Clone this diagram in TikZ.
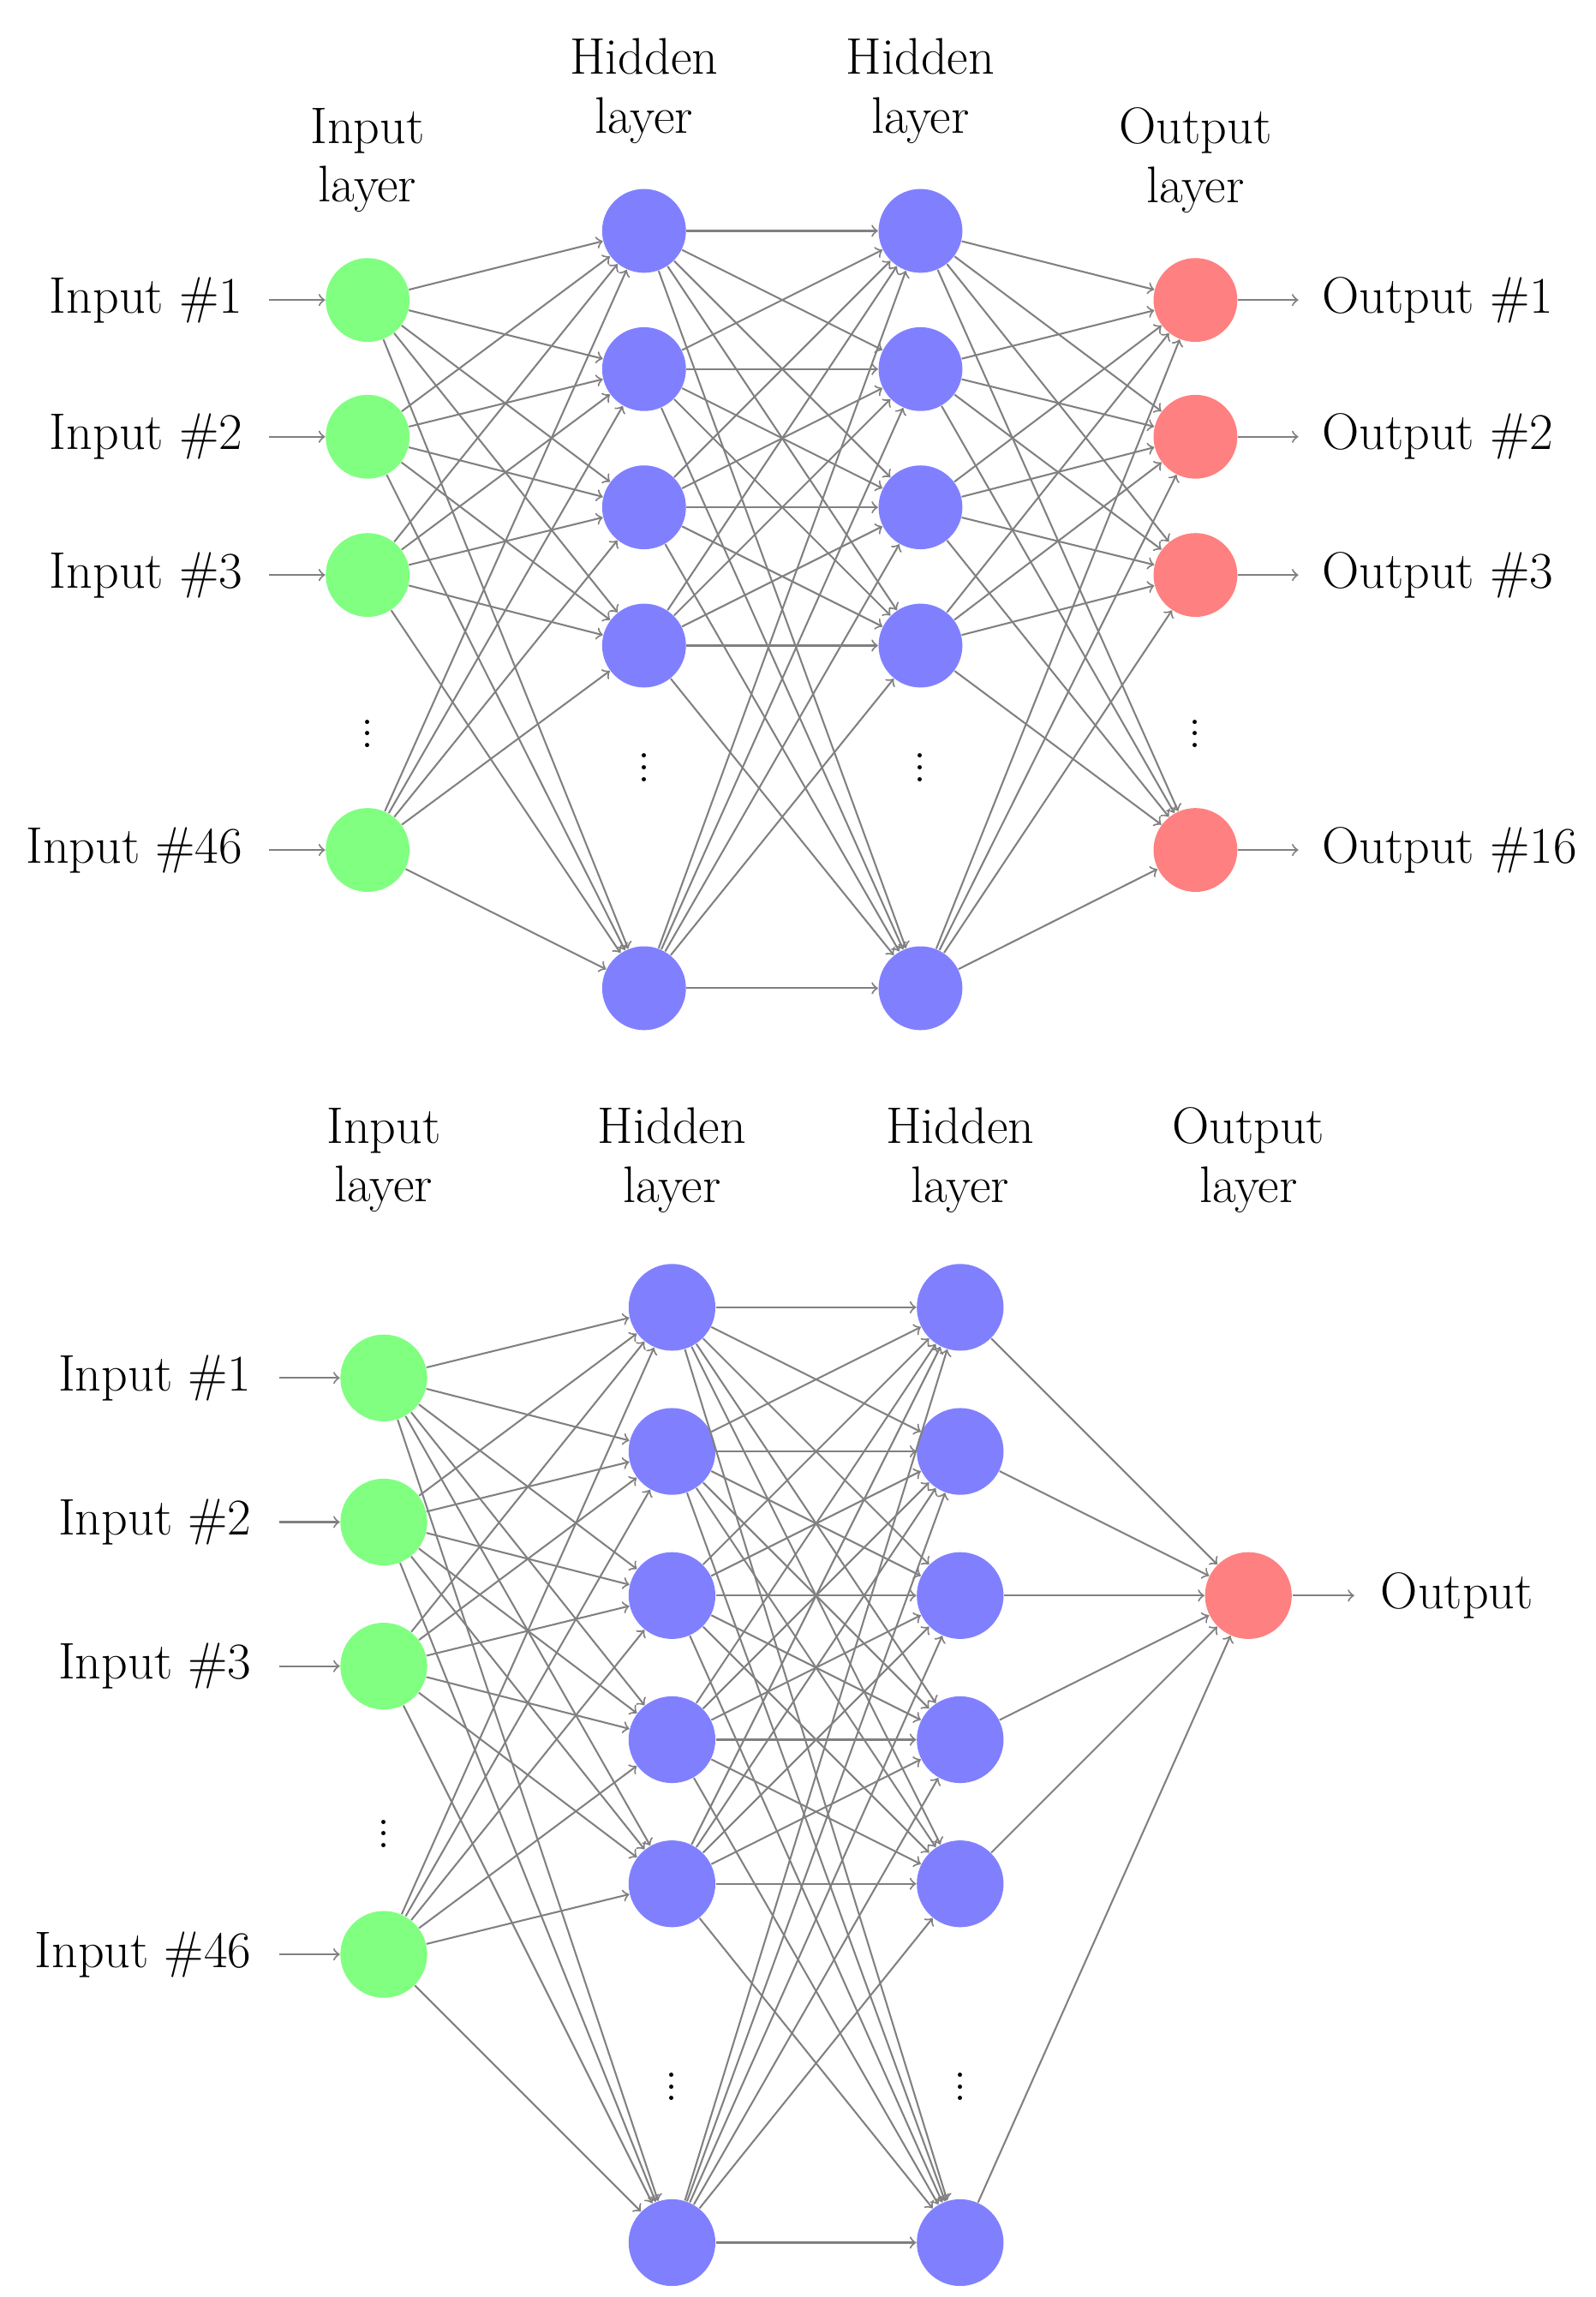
\documentclass[tikz,border=0pt]{standalone}
\begin{document}
\begin{tikzpicture}[x=0.5pt,y=-0.5pt,
  neu/.style={circle,minimum size=28.5pt,inner sep=0pt},
  inn/.style={neu,fill=green!50},
  hid/.style={neu,fill=blue!50},
  outn/.style={neu,fill=red!50},
  con/.style={->,gray,line width=0.6pt},
  lbl/.style={font=\fontsize{17.5}{21}\selectfont},
  ttl/.style={font=\fontsize{17.5}{20}\selectfont,align=center}]
\useasboundingbox (0,0) rectangle (1085,1562);
% ===== top network =====
\foreach \y/\n/\t in {204/1/1,297/2/2,391/3/3,578/4/46}{
  \node[inn] (a\n) at (250,\y) {};
  \node[lbl,anchor=east] (al\n) at (172,\y) {Input \#\t};
  \coordinate (as\n) at (183,\y);
  \draw[con] (as\n) -- (a\n);
}
\foreach \y/\n in {157/1,251/2,345/3,439/4,672/5}{
  \node[hid] (b\n) at (438,\y) {};
  \node[hid] (c\n) at (626,\y) {};
}
\foreach \y/\n/\t in {204/1/1,297/2/2,391/3/3,578/4/16}{
  \node[outn] (d\n) at (813,\y) {};
  \node[lbl,anchor=west] (dl\n) at (892,\y) {Output \#\t};
  \coordinate (de\n) at (883,\y);
  \draw[con] (d\n) -- (de\n);
}
\node[lbl] (ad) at (250,493) {$\vdots$};
\node[lbl] (bd) at (438,516) {$\vdots$};
\node[lbl] (cd) at (626,516) {$\vdots$};
\node[lbl] (dd) at (813,493) {$\vdots$};
\node[ttl] (at) at (250,109) {Input\\layer};
\node[ttl] (bt) at (438,62) {Hidden\\layer};
\node[ttl] (ct) at (626,62) {Hidden\\layer};
\node[ttl] (dt) at (813,109) {Output\\layer};
\foreach \i in {1,...,4}{\foreach \j in {1,...,5}{\draw[con] (a\i) -- (b\j);}}
\foreach \i in {1,...,5}{\foreach \j in {1,...,5}{\draw[con] (b\i) -- (c\j);}}
\foreach \i in {1,...,5}{\foreach \j in {1,...,4}{\draw[con] (c\i) -- (d\j);}}
% ===== bottom network =====
\tikzset{neu/.append style={minimum size=29.5pt}}
\foreach \y/\n/\t in {937/1/1,1035/2/2,1133/3/3,1329/4/46}{
  \node[inn] (p\n) at (261,\y) {};
  \node[lbl,anchor=east] (pl\n) at (178,\y) {Input \#\t};
  \coordinate (ps\n) at (190,\y);
  \draw[con] (ps\n) -- (p\n);
}
\foreach \y/\n in {889/1,987/2,1085/3,1183/4,1281/5,1525/6}{
  \node[hid] (q\n) at (457,\y) {};
  \node[hid] (r\n) at (653,\y) {};
}
\node[outn] (s1) at (849,1085) {};
\coordinate (se) at (921,1085);
\draw[con] (s1) -- (se);
\node[lbl,anchor=west] (sl) at (932,1085) {Output};
\node[lbl] (pd) at (261,1241) {$\vdots$};
\node[lbl] (qd) at (457,1413) {$\vdots$};
\node[lbl] (rd) at (653,1413) {$\vdots$};
\node[ttl] (pt) at (261,789) {Input\\layer};
\node[ttl] (qt) at (457,789) {Hidden\\layer};
\node[ttl] (rt) at (653,789) {Hidden\\layer};
\node[ttl] (st) at (849,789) {Output\\layer};
\foreach \i in {1,...,4}{\foreach \j in {1,...,6}{\draw[con] (p\i) -- (q\j);}}
\foreach \i in {1,...,6}{\foreach \j in {1,...,6}{\draw[con] (q\i) -- (r\j);}}
\foreach \i in {1,...,6}{\draw[con] (r\i) -- (s1);}
\end{tikzpicture}
\end{document}
